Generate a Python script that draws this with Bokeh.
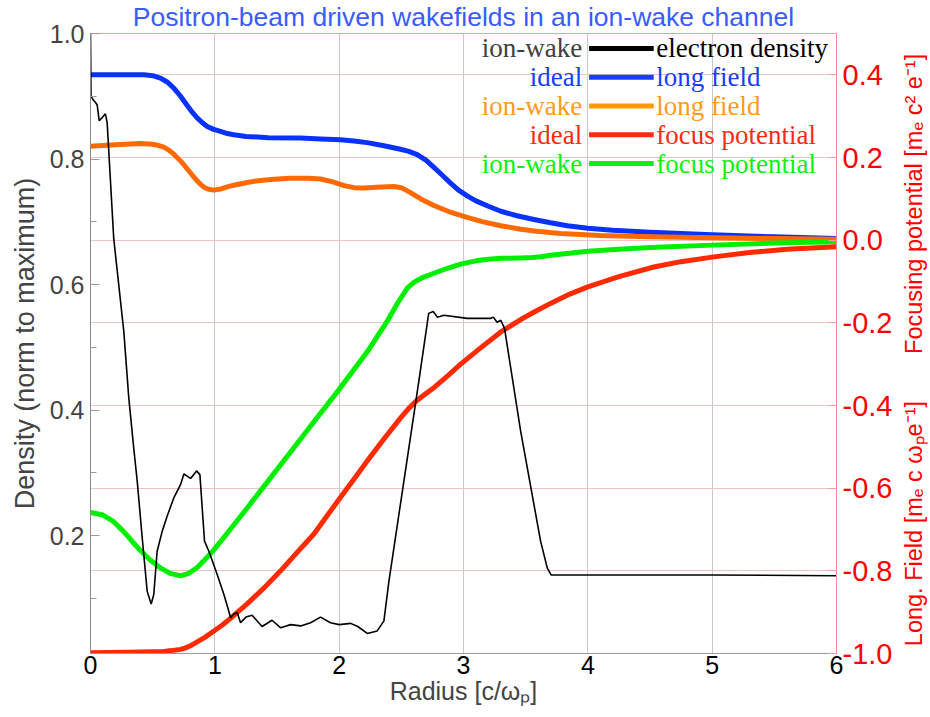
import math
from bokeh.plotting import figure
from bokeh.layouts import row
from bokeh.models import Range1d, LinearAxis, FixedTicker, Grid
from bokeh.embed import file_html
from bokeh.resources import INLINE
from bokeh.core.properties import value

# ---------------- data ----------------
dens_x = [0.0, 0.004, 0.02, 0.04, 0.054, 0.07, 0.094, 0.12, 0.134, 0.187, 0.268, 0.308, 0.348,
          0.376, 0.416, 0.456, 0.488, 0.509, 0.536, 0.577, 0.617, 0.670, 0.724, 0.751, 0.805,
          0.853, 0.88, 0.917, 0.952, 1.019, 1.073, 1.113, 1.126, 1.153, 1.18, 1.207, 1.25, 1.30,
          1.38, 1.46, 1.53, 1.61, 1.69, 1.77, 1.85, 1.93, 2.0, 2.092, 2.15, 2.226, 2.306, 2.36,
          2.40, 2.52, 2.64, 2.72, 2.756, 2.79, 2.842, 3.03, 3.218, 3.24, 3.27, 3.30, 3.33, 3.46,
          3.62, 3.674, 3.706, 4.0, 5.0, 6.0]
dens_y = [1.0, 0.90, 0.895, 0.89, 0.886, 0.861, 0.866, 0.872, 0.858, 0.673, 0.525, 0.419, 0.339,
          0.286, 0.196, 0.111, 0.091, 0.106, 0.175, 0.207, 0.231, 0.260, 0.281, 0.298, 0.291,
          0.303, 0.297, 0.191, 0.175, 0.138, 0.106, 0.079, 0.069, 0.075, 0.077, 0.061, 0.070, 0.073,
          0.055, 0.065, 0.053, 0.058, 0.056, 0.061, 0.070, 0.061, 0.058, 0.060, 0.055, 0.044, 0.048, 0.064,
          0.127, 0.286, 0.445, 0.554, 0.557, 0.548, 0.551, 0.546, 0.546, 0.548, 0.540, 0.543, 0.530, 0.366,
          0.191, 0.148, 0.137, 0.137, 0.137, 0.136]

blue_x = [0.0, 0.2, 0.43, 0.50, 0.563, 0.62, 0.67, 0.72, 0.778, 0.82, 0.858, 0.90, 0.939, 0.99,
          1.046, 1.10, 1.153, 1.25, 1.43, 1.689, 1.85, 2.01, 2.12, 2.226, 2.35, 2.494, 2.56, 2.628,
          2.70, 2.762, 2.83, 2.896, 2.96, 3.03, 3.10, 3.20, 3.30, 3.43, 3.567, 3.70, 3.835, 4.0,
          4.2, 4.5, 5.0, 5.5, 6.0]
blue_y = [0.400, 0.400, 0.400, 0.398, 0.392, 0.382, 0.368, 0.350, 0.326, 0.309, 0.296, 0.284,
          0.275, 0.268, 0.263, 0.258, 0.255, 0.251, 0.248, 0.247, 0.245, 0.243, 0.240, 0.236, 0.229,
          0.220, 0.215, 0.207, 0.193, 0.176, 0.157, 0.138, 0.121, 0.107, 0.095, 0.082, 0.070, 0.059,
          0.050, 0.042, 0.035, 0.029, 0.024, 0.019, 0.013, 0.008, 0.004]

orange_x = [0.0, 0.2, 0.40, 0.5, 0.55, 0.59, 0.63, 0.67, 0.71, 0.75, 0.79, 0.82, 0.86, 0.885, 0.92,
            0.95, 0.99, 1.05, 1.10, 1.153, 1.25, 1.35, 1.45, 1.6, 1.75, 1.85, 1.95, 2.04, 2.12, 2.2,
            2.3, 2.44, 2.5, 2.574, 2.66, 2.762, 2.9, 3.03, 3.15, 3.30, 3.45, 3.567, 3.78, 4.1, 4.5,
            5.0, 5.5, 6.0]
orange_y = [0.227, 0.231, 0.234, 0.232, 0.229, 0.225, 0.218, 0.208, 0.196, 0.183, 0.168, 0.157,
            0.143, 0.135, 0.127, 0.123, 0.121, 0.124, 0.129, 0.133, 0.139, 0.144, 0.147, 0.150,
            0.150, 0.148, 0.141, 0.132, 0.127, 0.126, 0.128, 0.130, 0.127, 0.115, 0.099, 0.084,
            0.067, 0.055, 0.045, 0.035, 0.027, 0.022, 0.016, 0.011, 0.008, 0.006, 0.004, 0.002]

red_x = [0.0, 0.3, 0.59, 0.65, 0.724, 0.76, 0.80, 0.858, 0.92, 0.99, 1.06, 1.126, 1.19, 1.26, 1.4,
         1.529, 1.66, 1.797, 1.9, 2.011, 2.12, 2.226, 2.36, 2.494, 2.56, 2.62, 2.69, 2.762, 2.87,
         2.977, 3.14, 3.30, 3.46, 3.58, 3.70, 3.85, 4.0, 4.25, 4.53, 4.75, 5.0, 5.3, 5.6, 6.0]
red_y = [-0.998, -0.997, -0.995, -0.993, -0.990, -0.987, -0.982, -0.972, -0.961, -0.946, -0.931,
         -0.915, -0.898, -0.880, -0.840, -0.800, -0.756, -0.711, -0.668, -0.622, -0.578, -0.534,
         -0.481, -0.430, -0.407, -0.389, -0.373, -0.357, -0.329, -0.300, -0.260, -0.222, -0.192,
         -0.172, -0.153, -0.131, -0.113, -0.088, -0.065, -0.052, -0.041, -0.030, -0.022, -0.016]

green_x = [0.0, 0.1, 0.187, 0.25, 0.3, 0.35, 0.402, 0.48, 0.563, 0.64, 0.724, 0.79, 0.858, 0.92,
           0.99, 1.1, 1.26, 1.42, 1.6, 1.8, 2.0, 2.226, 2.387, 2.47, 2.548, 2.60, 2.66, 2.762, 2.87,
           2.977, 3.1, 3.2, 3.30, 3.46, 3.55, 3.62, 3.72, 3.835, 4.0, 4.25, 4.5, 5.0, 5.5, 6.0]
green_y = [-0.659, -0.665, -0.681, -0.700, -0.716, -0.734, -0.751, -0.774, -0.793, -0.806, -0.812,
           -0.806, -0.792, -0.773, -0.750, -0.709, -0.648, -0.586, -0.516, -0.438, -0.361, -0.270,
           -0.196, -0.152, -0.116, -0.102, -0.092, -0.080, -0.068, -0.058, -0.050, -0.046, -0.044,
           -0.043, -0.042, -0.040, -0.036, -0.032, -0.027, -0.022, -0.018, -0.012, -0.007, -0.004]

x_ticks = [0, 1, 2, 3, 4, 5, 6]
left_ticks = [0.2, 0.4, 0.6, 0.8, 1.0]
left_labels = ["0.2", "0.4", "0.6", "0.8", "1.0"]
left_minor = [0.1, 0.3, 0.5, 0.7, 0.9]
right_ticks = [-1.0, -0.8, -0.6, -0.4, -0.2, 0.0, 0.2, 0.4]
right_labels = ["-1.0", "-0.8", "-0.6", "-0.4", "-0.2", "0.0", "0.2", "0.4"]

legend_left = ["ion-wake", "ideal", "ion-wake", "ideal", "ion-wake"]
legend_right = ["electron density", "long field", "long field", "focus potential", "focus potential"]

right_title = ("Long. Field [m\u2091 c \u03c9\u209ae\u207b\u00b9]\u2003\u2003"
               "Focusing potential [m\u2091 c\u00b2 e\u207b\u00b9]")

# ---------------- styles ----------------
C_BLACK = "#000000"
C_BLUE = "#0a32ff"
C_ORANGE = "#ff6a00"
C_RED = "#ff2a00"
C_GREEN = "#00ee00"
leg_line_colors = ["#000000", "#1a3cff", "#ff9900", "#ff2a10", "#11ee11"]
leg_left_colors = ["#404040", "#1a3cff", "#ff9a1a", "#ff2a10", "#11ee11"]
leg_right_colors = ["#000000", "#1a3cff", "#ff9a1a", "#ff2a10", "#11ee11"]

SANS = "Liberation Sans"
SERIF = "Liberation Serif"

MAIN_W, SIDE_W, H = 896, 34, 717

p = figure(width=MAIN_W, height=H, x_range=Range1d(0, 6), y_range=Range1d(0.012, 1.0),
           output_backend="svg", toolbar_location=None,
           min_border_left=90, min_border_right=60, min_border_top=33, min_border_bottom=64,
           title="Positron-beam driven wakefields in an ion-wake channel")
p.background_fill_color = "white"
p.border_fill_color = "white"
p.outline_line_color = "#e8a0a0"
p.outline_line_width = 1

p.title.align = "center"
p.title.vertical_align = "top"
p.title.text_font = SANS
p.title.text_font_size = "26.5px"
p.title.text_font_style = "normal"
p.title.text_color = "#3b5bff"
p.title.standoff = 0
p.title.offset = 17

p.extra_y_ranges = {"right": Range1d(-1.0, 0.5)}

# bottom axis
xa = p.xaxis[0]
xa.ticker = FixedTicker(ticks=x_ticks)
xa.axis_label = "Radius [c/\u03c9\u209a]"
xa.axis_label_text_font = SANS
xa.axis_label_text_font_size = "25px"
xa.axis_label_text_font_style = "normal"
xa.axis_label_standoff = 0
xa.major_label_text_font = SANS
xa.major_label_text_font_size = "25px"
xa.major_label_text_color = "black"
xa.major_label_standoff = 2
xa.major_tick_in = 0
xa.major_tick_out = 0
xa.minor_tick_in = 0
xa.minor_tick_out = 0
xa.axis_line_color = "#999999"

# left axis
ya = p.yaxis[0]
ya.ticker = FixedTicker(ticks=left_ticks, minor_ticks=left_minor)
ya.major_label_overrides = {t: s for t, s in zip(left_ticks, left_labels)}
ya.axis_label = "Density (norm to maximum)"
ya.axis_label_text_font = SANS
ya.axis_label_text_font_size = "27px"
ya.axis_label_text_font_style = "normal"
ya.axis_label_standoff = 7
ya.major_label_text_font = SANS
ya.major_label_text_font_size = "25px"
ya.major_label_standoff = 6
ya.major_tick_in = 9
ya.major_tick_out = 0
ya.minor_tick_in = 6
ya.minor_tick_out = 0
ya.major_tick_line_color = "#999999"
ya.minor_tick_line_color = "#999999"
ya.axis_line_color = "#888888"

# right axis (its title is drawn in the narrow side panel)
ra = LinearAxis(y_range_name="right")
ra.ticker = FixedTicker(ticks=right_ticks)
ra.major_label_overrides = {t: s for t, s in zip(right_ticks, right_labels)}
ra.major_label_text_font = SANS
ra.major_label_text_font_size = "29px"
ra.major_label_text_color = "#ff0000"
ra.major_label_standoff = 6
ra.major_tick_in = 8
ra.major_tick_out = 0
ra.minor_tick_in = 0
ra.minor_tick_out = 0
ra.major_tick_line_color = "#f0a0a0"
ra.axis_line_color = "#f08c8c"
p.add_layout(ra, "right")

# grids
p.ygrid.visible = False
p.xgrid.ticker = FixedTicker(ticks=x_ticks)
p.xgrid.grid_line_color = "#c8c8c8"
p.xgrid.grid_line_width = 1
p.add_layout(Grid(dimension=1, ticker=ra.ticker, y_range_name="right",
                  grid_line_color="#e8c4c4", grid_line_width=1))

# curves
p.line(blue_x, blue_y, y_range_name="right", line_color=C_BLUE, line_width=5, line_join="round")
p.line(orange_x, orange_y, y_range_name="right", line_color=C_ORANGE, line_width=5, line_join="round")
p.line(green_x, green_y, y_range_name="right", line_color=C_GREEN, line_width=5, line_join="round")
p.line(red_x, red_y, y_range_name="right", line_color=C_RED, line_width=5, line_join="round")
p.line(dens_x, dens_y, line_color=C_BLACK, line_width=1.6)

# legend (custom: text on both sides of the line sample), positioned in right-axis units
LEG_Y0, LEG_DY = 0.464, 0.0697
LEG_TXT_R, LEG_L0, LEG_L1, LEG_TXT_L = 3.955, 4.01, 4.53, 4.55
rows = [LEG_Y0 - i * LEG_DY for i in range(len(legend_left))]
p.text(x=[LEG_TXT_R] * len(rows), y=rows, text=legend_left, y_range_name="right",
       text_align="right", text_baseline="middle", text_font=value(SERIF),
       text_font_size="27px", text_color=leg_left_colors)
p.segment(x0=[LEG_L0] * len(rows), y0=rows, x1=[LEG_L1] * len(rows), y1=rows,
          y_range_name="right", line_color=leg_line_colors, line_width=5)
p.text(x=[LEG_TXT_L] * len(rows), y=rows, text=legend_right, y_range_name="right",
       text_align="left", text_baseline="middle", text_font=value(SERIF),
       text_font_size="27px", text_color=leg_right_colors)

# narrow side panel carrying the right-hand axis title (reads bottom to top)
q = figure(width=SIDE_W, height=H, x_range=Range1d(0, 1), y_range=Range1d(0, H),
           output_backend="svg", toolbar_location=None, x_axis_type=None, y_axis_type=None,
           min_border=0)
q.grid.visible = False
q.outline_line_color = None
q.background_fill_color = "white"
q.border_fill_color = "white"
q.text(x=[0.5], y=[H - 366], text=[right_title], angle=math.pi / 2,
       text_align="center", text_baseline="middle", text_font=value(SANS),
       text_font_size="23.5px", text_color="#ff0000")

layout = row(p, q, spacing=0)
open("out.html", "w").write(file_html(layout, INLINE))
